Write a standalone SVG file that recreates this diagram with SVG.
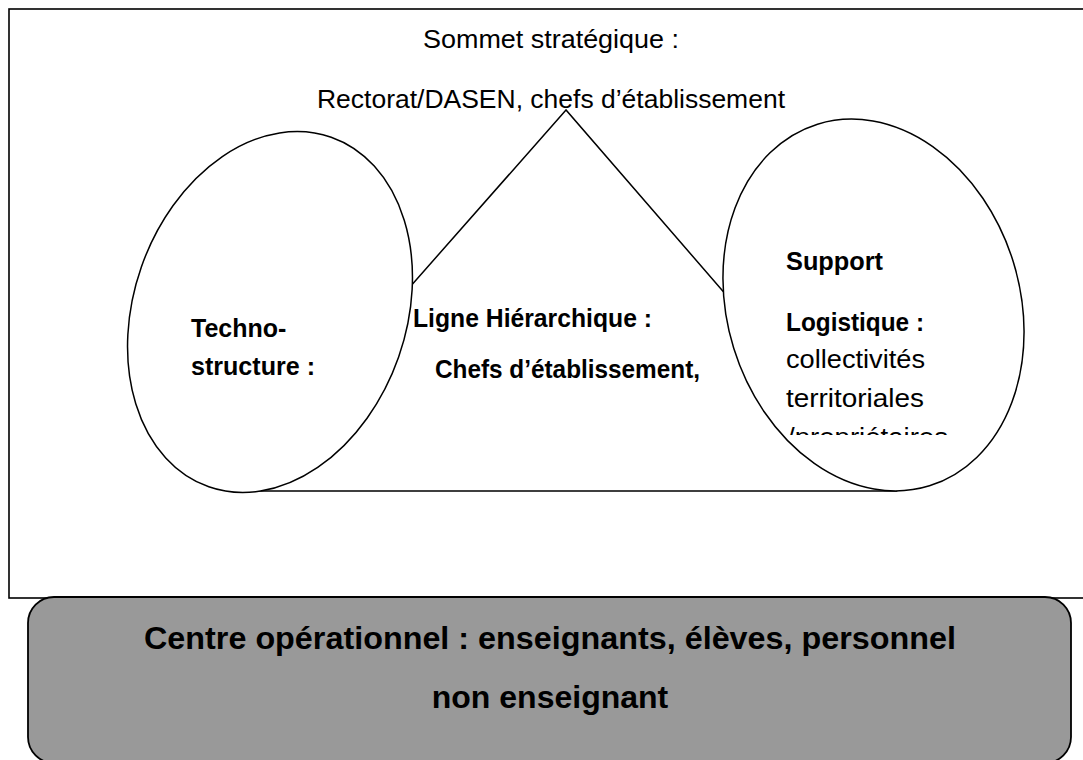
<svg xmlns="http://www.w3.org/2000/svg" width="1083" height="760" viewBox="0 0 1083 760">
<defs>
<style>
.ln{fill:#fff;stroke:#000;stroke-width:1.5}
.t{font-family:"Liberation Sans",Arial,sans-serif;font-size:26px;fill:#000}
.b{font-family:"Liberation Sans",Arial,sans-serif;font-size:25px;font-weight:bold;fill:#000}
.c{font-family:"Liberation Sans",Arial,sans-serif;font-size:32px;font-weight:bold;fill:#000}
</style>
<clipPath id="clipProp"><rect x="700" y="0" width="383" height="435"/></clipPath>
</defs>
<rect x="0" y="0" width="1083" height="760" fill="#fff"/>
<g id="frame">
<rect x="9" y="9" width="1090" height="589" fill="#fff" stroke="#000" stroke-width="1.6"/>
</g>
<g id="sommet">
<text class="t" x="551" y="48" text-anchor="middle" textLength="256" lengthAdjust="spacingAndGlyphs">Sommet stratégique :</text>
<text class="t" x="551" y="108" text-anchor="middle" textLength="468" lengthAdjust="spacingAndGlyphs">Rectorat/DASEN, chefs d’établissement</text>
</g>
<g id="ligne-hierarchique">
<polygon class="ln" points="566,110 230,491 896,491"/>
</g>
<g id="technostructure">
<ellipse class="ln" cx="270" cy="312" rx="136.3" ry="185.2" transform="rotate(19.3 270 312)"/>
<text class="b" x="191" y="337">Techno-</text>
<text class="b" x="191" y="375" textLength="124" lengthAdjust="spacingAndGlyphs">structure :</text>
</g>
<g id="support-logistique">
<ellipse class="ln" cx="873.5" cy="305" rx="146.3" ry="189.3" transform="rotate(-17.2 873.5 305)"/>
<text class="b" x="786" y="270" textLength="97" lengthAdjust="spacingAndGlyphs">Support</text>
<text class="b" x="786" y="331" textLength="138" lengthAdjust="spacingAndGlyphs">Logistique :</text>
<text class="t" x="786" y="368" textLength="139" lengthAdjust="spacingAndGlyphs">collectivités</text>
<text class="t" x="786" y="407" textLength="138" lengthAdjust="spacingAndGlyphs">territoriales</text>
<text class="t" x="787" y="446" clip-path="url(#clipProp)" textLength="161" lengthAdjust="spacingAndGlyphs">/propriétaires</text>
</g>
<g id="ligne-texte">
<text class="b" x="413" y="327" textLength="239" lengthAdjust="spacingAndGlyphs">Ligne Hiérarchique :</text>
<text class="b" x="435" y="378" textLength="265" lengthAdjust="spacingAndGlyphs">Chefs d’établissement,</text>
</g>
<g id="centre-operationnel">
<rect x="28" y="597" width="1043" height="166" rx="26" ry="26" fill="#999" stroke="#000" stroke-width="1.8"/>
<text class="c" x="550" y="649" text-anchor="middle" textLength="812" lengthAdjust="spacingAndGlyphs">Centre opérationnel : enseignants, élèves, personnel</text>
<text class="c" x="550" y="708" text-anchor="middle">non enseignant</text>
</g>
</svg>
